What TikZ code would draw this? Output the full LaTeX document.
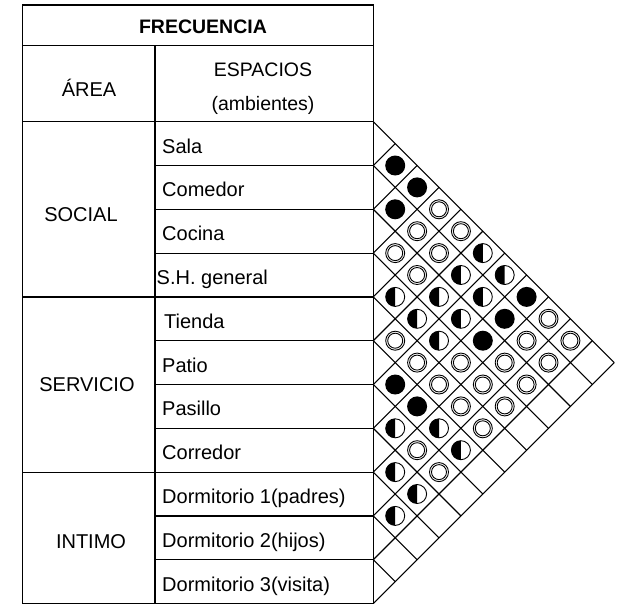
\documentclass[tikz,border=0pt]{standalone}
\usepackage{fontspec}
\setmainfont{Liberation Sans}
\begin{document}
\begin{tikzpicture}[x=1pt,y=-1pt,
  tline/.style={line width=1.2pt},
  gline/.style={line width=1.1pt},
  txt/.style={inner sep=0pt,font=\fontsize{20}{24}\selectfont},
  lbl/.style={txt,anchor=base west},
  ctr/.style={txt,anchor=base}]
\useasboundingbox (0,0) rectangle (620,605);
\def\h{43.8}
\def\yz{121.7}
\def\xr{373.3}
% table frame
\draw[tline] (22.3,5) rectangle (\xr,603.5);
\draw[tline] (22.3,45.7) -- (\xr,45.7);
\draw[tline] (22.3,\yz) -- (\xr,\yz);
\draw[tline] (155,45.7) -- (155,603.5);
\foreach \k in {1,...,10}{\draw[tline] (155,\yz+\k*\h) -- (\xr,\yz+\k*\h);}
\foreach \k in {4,8}{\draw[tline] (22.3,\yz+\k*\h) -- (155,\yz+\k*\h);}
% header texts
\node[ctr,font=\fontsize{19.5}{24}\selectfont\bfseries] (frec) at (203,33.3) {FRECUENCIA};
\node[ctr] (area) at (89,96.7) {ÁREA};
\node[ctr,font=\fontsize{19.5}{24}\selectfont] (esp) at (263,76.7) {ESPACIOS};
\node[ctr,font=\fontsize{19.5}{24}\selectfont] (amb) at (263,110.5) {(ambientes)};
% area texts
\node[ctr] (social) at (81,221.7) {SOCIAL};
\node[ctr] (servicio) at (87,391.7) {SERVICIO};
\node[ctr] (intimo) at (91,548.3) {INTIMO};
% space names
\foreach \n/\t/\xx in {1/Sala/162,2/Comedor/162,3/Cocina/162,4/S.H. general/156.5,5/Tienda/164,6/Patio/162,7/Pasillo/162,8/Corredor/162,9/Dormitorio 1(padres)/162,10/Dormitorio 2(hijos)/162,11/Dormitorio 3(visita)/162}{
  \node[lbl] (s\n) at (\xx,\yz+\n*\h-\h/2+9.5) {\t};
}
% matrix grid
\foreach \k in {0,...,11}{
  \draw[gline] (\xr,\yz+\k*\h) -- ++({(11-\k)*\h/2},{(11-\k)*\h/2});
  \draw[gline] (\xr,\yz+\k*\h) -- ++({\k*\h/2},{-\k*\h/2});
}
% symbols: B black, H half, E empty
\foreach \i/\j/\s in {
 1/2/B,1/3/B,1/4/E,1/5/E,1/6/H,1/7/H,1/8/B,1/9/E,1/10/E,
 2/3/B,2/4/E,2/5/E,2/6/H,2/7/H,2/8/B,2/9/E,2/10/E,
 3/4/E,3/5/E,3/6/H,3/7/H,3/8/B,3/9/E,3/10/E,
 4/5/H,4/6/H,4/7/H,4/8/E,4/9/E,4/10/E,
 5/6/E,5/7/E,5/8/E,5/9/E,5/10/E,
 6/7/B,6/8/B,6/9/H,6/10/H,
 7/8/H,7/9/E,7/10/E,
 8/9/H,8/10/H,
 9/10/H}{
  \pgfmathsetmacro\cx{\xr+(\j-\i)*\h/2}
  \pgfmathsetmacro\cy{\yz+(\i+\j-1)*\h/2}
  \if\s B
    \fill (\cx,\cy) circle (10pt);
  \else\if\s H
    \begin{scope}
      \clip (\cx-12,\cy-12) rectangle (\cx,\cy+12);
      \fill (\cx,\cy) circle (9.5pt);
    \end{scope}
    \draw[line width=0.9pt] (\cx,\cy) circle (9.5pt);
  \else
    \draw[line width=0.9pt] (\cx,\cy) circle (9.5pt) (\cx,\cy) circle (7.5pt);
  \fi\fi
}
\end{tikzpicture}
\end{document}
